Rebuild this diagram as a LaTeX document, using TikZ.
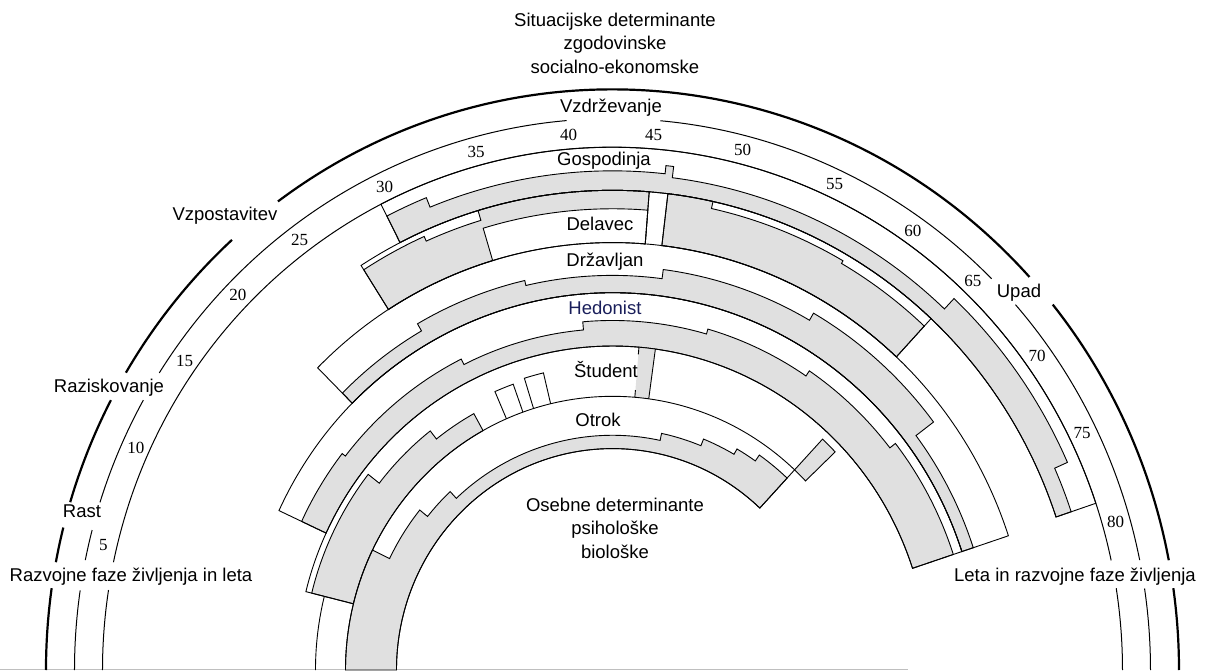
\documentclass[tikz,border=0pt]{standalone}
\usepackage{fontspec}
\setmainfont{Liberation Sans}
\newfontfamily\numfont{Liberation Serif}
\definecolor{hedblue}{RGB}{25,30,90}
\newcommand\roleband[4]{\draw[bandline] (#1:#3) -- (#1:#4) arc[start angle=#1,end angle=#2,radius=#4] -- (#2:#3) arc[start angle=#2,end angle=#1,radius=#3] -- cycle;}
\newcommand\rolefill[4]{\filldraw[involve] (#1:#3) foreach \sa/\sb/\sr in {#4}{ -- (\sa:\sr) arc[start angle=\sa,end angle=\sb,radius=\sr]} -- (#2:#3) arc[start angle=#2,end angle=#1,radius=#3] -- cycle;}
\begin{document}
\begin{tikzpicture}[x=1pt,y=1pt,
  ring/.style={line width=1pt},
  rim/.style={line width=2.2pt},
  bandline/.style={line width=0.9pt},
  involve/.style={fill=black!12,draw,line width=0.9pt},
  lbl/.style={font=\fontsize{18.5}{23.5}\selectfont,align=center,inner sep=0pt},
  yr/.style={font=\numfont\fontsize{17}{17}\selectfont,inner sep=0pt}]
\useasboundingbox (-612.5,0) rectangle (592.5,670);
\clip (-612.5,0) rectangle (592.5,670);
\draw[black!25,line width=1pt] (-612.5,0.5) -- (295.5,0.5);
\begin{scope}[y=1.025pt]
\foreach \a/\b in {180/171.9,169.3/165.8,163.2/152.3,149.2/132.2,126.2/42.6,39/10.9,8.1/0}
  \draw[rim] (\a:566.5) arc[start angle=\a,end angle=\b,radius=566.5];
\foreach \a/\b in {180/171.7,168.5/165.3,162.3/150.7,147.4/94.9,84.9/45.2,41.5/11.5,8.5/0}
  \draw[ring] (\a:538) arc[start angle=\a,end angle=\b,radius=538];
\foreach \a/\b in {180/171.2,168.1/12.1,9/0}
  \draw[ring] (\a:510) arc[start angle=\a,end angle=\b,radius=510];
\foreach \n/\t in {5/166.5,10/155.6,15/144.8,20/135.7,25/126.7,30/115.8,35/105.1,40/94.8,45/85.5,50/75.6,55/64.9,60/55,65/46.5,70/35.8,75/26.2,80/16}
  \node[yr] (y\n) at (\t:523.5) {\n};
\rolefill{117}{18.6}{468}{117/112/497,112/83.8/487,83.8/82.9/495,82.9/46.7/484,46.7/24/498,24/18.6/484}
\rolefill{122.5}{85.5}{417}{122.5/114/463,114/106.7/458,106.7/85.5/468}
\filldraw[fill=white,bandline] (106.7:417) -- (106.7:450) arc[start angle=106.7,end angle=85.5,radius=450] -- (85.5:417);
\rolefill{83.2}{47.1}{417}{83.2/77.6/468,77.6/60/461,60/47.1/458}
\rolefill{135}{18.3}{368}{135/120/382,120/103/390,103/82.6/385,82.6/60/394,60/37/402,37/18.3/380}
\rolefill{155}{18.3}{316}{155/142/343,142/116.5/339,116.5/95/333,95/74/341,74/56/346,56/38/352,38/18.3/359}
\rolefill{166}{119}{267}{166/142/310,142/128/296,128/119/286}
\fill[black!12] (85.2:267) -- (85.2:316) arc[start angle=85.2,end angle=82.2,radius=316] -- (82.2:267) arc[start angle=82.2,end angle=85.2,radius=267] -- cycle;
\filldraw[involve] (47:267) -- (47:308) arc[start angle=47,end angle=43.7,radius=308] -- (43.7:267) arc[start angle=43.7,end angle=47,radius=267] -- cycle;
\rolefill{180}{47}{216}{180/154/267,154/141/248,141/133/238,133/78/229,78/68/236,68/60/243,60/55/249,55/47/256}
\roleband{117}{18.6}{468}{510}
\roleband{122.5}{85.5}{417}{468}
\roleband{83.2}{47.1}{417}{468}
\roleband{135}{18.3}{368}{417}
\roleband{155}{18.3}{316}{368}
\draw[bandline] (166:267) -- (166:316) arc[start angle=166,end angle=155,radius=316];
\draw[bandline] (180:297) arc[start angle=180,end angle=166,radius=297];
\foreach \a/\b/\s in {113.4/109.6/296,107.2/103.4/298}
  \draw[bandline] (\a:267) -- (\a:\s) arc[start angle=\a,end angle=\b,radius=\s] -- (\b:267);
\draw[bandline] (82.2:267) -- (82.2:316) (85.2:267) -- (85.2:274) (85.2:309) -- (85.2:316);
\draw[bandline] (180:216) arc[start angle=180,end angle=47,radius=216] -- (47:267) arc[start angle=47,end angle=180,radius=267];
\end{scope}
\node[lbl] (situ) at (2.5,627) {Situacijske determinante\\zgodovinske\\socialno-ekonomske};
\node[lbl] (vzdr) at (-1.5,562) {Vzdrževanje};
\node[lbl] (vzpo) at (-387.5,454) {Vzpostavitev};
\node[lbl] (razi) at (-503.5,282) {Raziskovanje};
\node[lbl] (rast) at (-530.5,159) {Rast};
\node[lbl] (razv) at (-481.5,93) {Razvojne faze življenja in leta};
\node[lbl] (leta) at (462.5,93) {Leta in razvojne faze življenja};
\node[lbl] (upad) at (406.5,377) {Upad};
\node[lbl] (gosp) at (-8.5,509) {Gospodinja};
\node[lbl] (dela) at (-12.5,446) {Delavec};
\node[lbl] (drza) at (-7.5,408) {Državljan};
\node[lbl,text=hedblue] (hedo) at (-7.5,362) {Hedonist};
\node[lbl] (stud) at (-6.5,300) {Študent};
\node[lbl] (otro) at (-14.5,250) {Otrok};
\node[lbl] (oseb) at (2.5,142) {Osebne determinante\\psihološke\\biološke};
\end{tikzpicture}
\end{document}
